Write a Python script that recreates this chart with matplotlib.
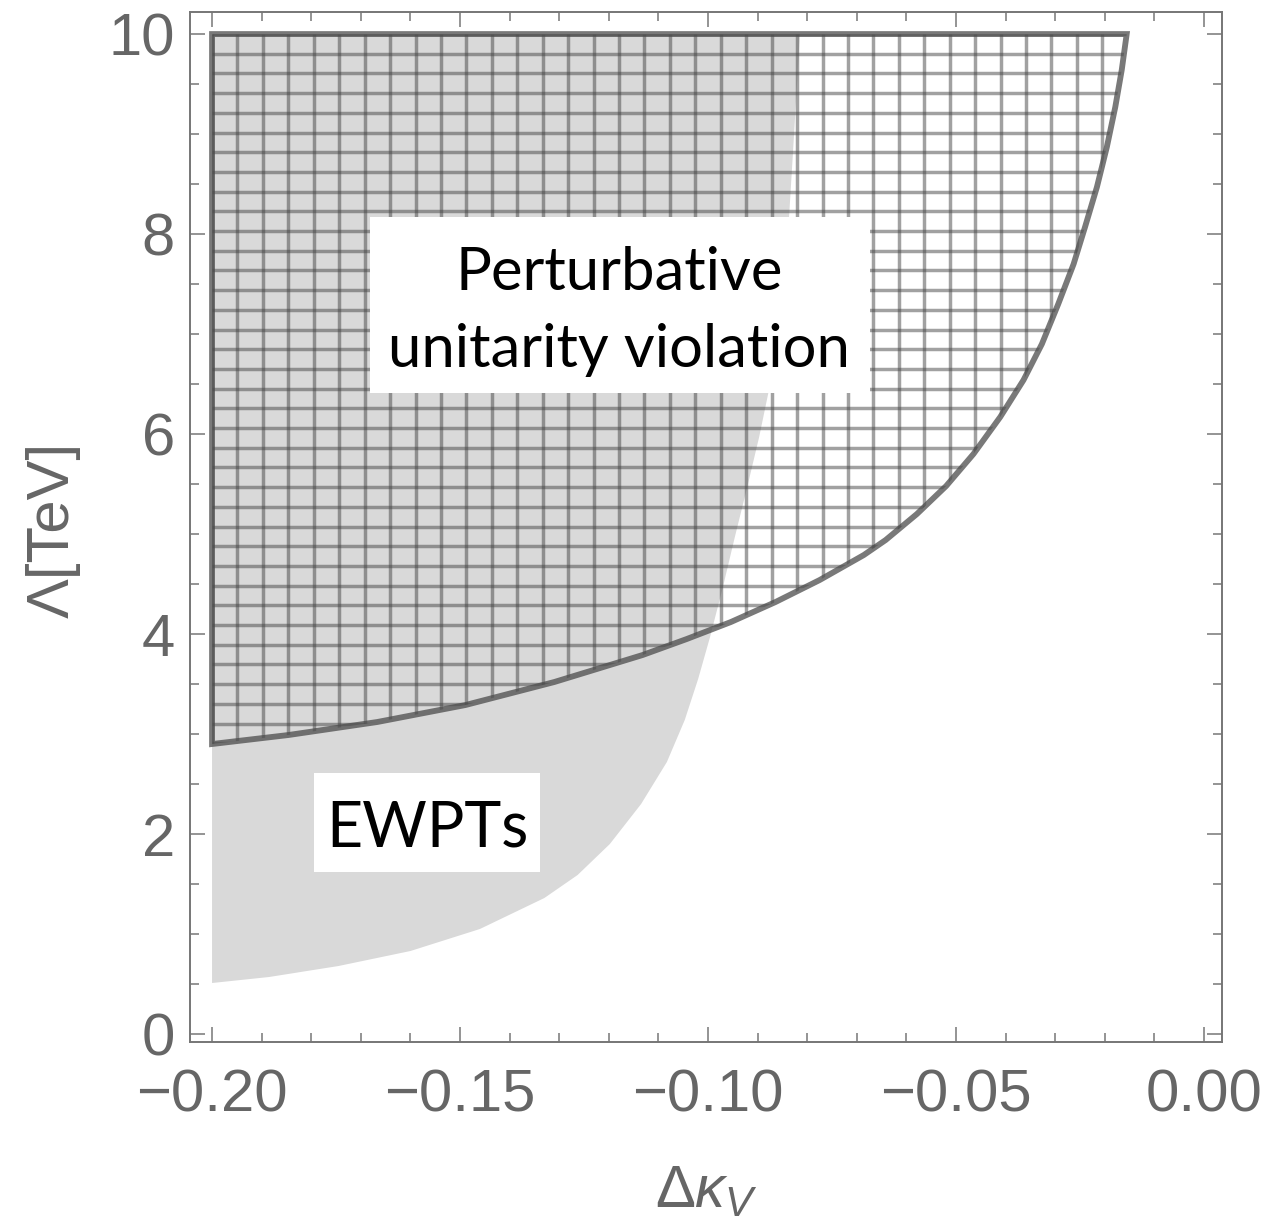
import numpy as np
import matplotlib.pyplot as plt
from matplotlib.patches import Polygon, Rectangle
from matplotlib.ticker import MultipleLocator, FuncFormatter

plt.rcParams['font.family'] = ['Liberation Sans', 'DejaVu Sans']
plt.rcParams['mathtext.fontset'] = 'custom'
plt.rcParams['mathtext.rm'] = 'Liberation Sans'
plt.rcParams['mathtext.it'] = 'Liberation Sans:italic'

# EWPT exclusion: right edge of the grey band (delta kappa_V, Lambda in TeV)
ewpt_dk = [-0.2000, -0.1885, -0.1745, -0.1600, -0.1460, -0.1330, -0.1263, -0.1198,
           -0.1135, -0.1083, -0.1047, -0.1020, -0.0996, -0.0970, -0.0946, -0.0921,
           -0.0897, -0.0876, -0.0856, -0.0840, -0.0829, -0.0821, -0.0815]
ewpt_lam = [0.51, 0.57, 0.68, 0.83, 1.05, 1.36, 1.59, 1.90,
            2.30, 2.72, 3.14, 3.55, 3.97, 4.47, 4.97, 5.47,
            5.97, 6.47, 7.10, 7.90, 8.80, 9.47, 10.0]

# perturbative unitarity bound
unit_dk = [-0.2000, -0.1846, -0.1667, -0.1489, -0.1310, -0.1132, -0.1043, -0.0954,
           -0.0864, -0.0775, -0.0686, -0.0642, -0.0579, -0.0520, -0.0465, -0.0411,
           -0.0364, -0.0327, -0.0294, -0.0263, -0.0240, -0.0216, -0.0196, -0.0179,
           -0.0166, -0.0156]
unit_lam = [2.90, 2.99, 3.12, 3.29, 3.52, 3.79, 3.95, 4.12,
            4.32, 4.54, 4.79, 4.94, 5.20, 5.48, 5.80, 6.17,
            6.54, 6.90, 7.30, 7.70, 8.07, 8.47, 8.87, 9.27,
            9.64, 10.0]

dk_left = -0.20
lam_top = 10.0

grey = '#d9d9d9'
axis_grey = '#767676'
label_grey = '#666666'

fig = plt.figure(figsize=(12.66, 12.18), dpi=100)
ax = fig.add_axes([0.1501, 0.1445, 0.8152, 0.8456])
ax.set_xlim(-0.20444, 0.00363)
ax.set_ylim(-0.08, 10.22)

# -------- EWPT region --------
ewpt_pts = [(dk_left, lam_top)] + list(zip(ewpt_dk, ewpt_lam))
ax.add_patch(Polygon(ewpt_pts, closed=True, facecolor=grey, edgecolor='none', zorder=1))

# -------- unitarity region (grid hatch) --------
unit_pts = [(dk_left, lam_top)] + list(zip(unit_dk, unit_lam))
unit_patch = Polygon(unit_pts, closed=True, facecolor='none', edgecolor='#4c4c4c',
                     alpha=0.75, lw=4.2, joinstyle='miter', zorder=3)
ax.add_patch(unit_patch)

dx = 0.2 / 39
dy = 0.197
xs = dk_left + dx * np.arange(40)
ys = lam_top - dy * np.arange(40)
vl = ax.vlines(xs, 0, lam_top, colors='#444444', alpha=0.5, lw=2.5, zorder=2)
hl = ax.hlines(ys, dk_left, 0, colors='#444444', alpha=0.5, lw=2.5, zorder=2)
vl.set_clip_path(unit_patch)
hl.set_clip_path(unit_patch)

# -------- labels in white boxes --------
ax.add_patch(Rectangle((-0.16815, 6.41), 0.10085, 1.76, facecolor='white',
                       edgecolor='none', zorder=5))
ax.text(-0.1180, 7.436, 'Perturbative', family='Lato', fontsize=43,
        ha='center', va='baseline', color='black', zorder=6)
ax.text(-0.1180, 6.67, 'unitarity violation', family='Lato', fontsize=43,
        ha='center', va='baseline', color='black', zorder=6)

ax.add_patch(Rectangle((-0.1795, 1.62), 0.0456, 0.99, facecolor='white',
                       edgecolor='none', zorder=5))
ax.text(-0.1565, 1.872, 'EWPTs', family='Lato', fontsize=45,
        ha='center', va='baseline', color='black', zorder=6)

# -------- axes styling --------
def fmt_x(v, pos):
    if abs(v) < 1e-9:
        v = 0.0
    return f'{v:.2f}'.replace('-', '\u2212')

ax.xaxis.set_major_locator(MultipleLocator(0.05))
ax.xaxis.set_minor_locator(MultipleLocator(0.01))
ax.yaxis.set_major_locator(MultipleLocator(2))
ax.yaxis.set_minor_locator(MultipleLocator(0.5))
ax.xaxis.set_major_formatter(FuncFormatter(fmt_x))

ax.tick_params(which='both', direction='in', top=True, right=True,
               colors=axis_grey, labelcolor=label_grey, labelsize=43, width=1.1)
ax.tick_params(which='major', length=10.8)
ax.tick_params(which='minor', length=6.5)
ax.tick_params(axis='x', pad=19)
ax.tick_params(axis='y', pad=10.8)
for s in ax.spines.values():
    s.set_color(axis_grey)
    s.set_linewidth(1.4)

fig.text(53.5 / 1266, 1 - 530 / 1218, '\u039b[TeV]', rotation=90, ha='center',
         va='center', fontsize=43, color=label_grey)
fig.text(706 / 1266, 1 - 1208 / 1218, r'$\Delta\kappa_V$', ha='center',
         va='baseline', fontsize=43, color=label_grey)

fig.savefig('out.png', dpi=100)
print('Saved out.png')
